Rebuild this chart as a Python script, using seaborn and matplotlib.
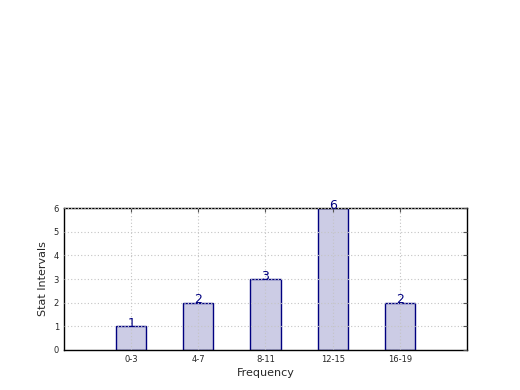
import matplotlib
matplotlib.use("Agg")
import matplotlib.pyplot as plt
import seaborn as sns
import pandas as pd

categories = ["0-3", "4-7", "8-11", "12-15", "16-19"]
values = [1, 2, 3, 6, 2]

sns.set_style("white")
plt.rcParams['font.family'] = ['DejaVu Sans']

df = pd.DataFrame({"Frequency": categories, "Stat Intervals": values})

fig = plt.figure(figsize=(5.2, 3.9), dpi=100)
ax = fig.add_axes([0.123, 0.1026, 0.775, 0.364])
sns.barplot(data=df, x="Frequency", y="Stat Intervals", ax=ax, width=0.45,
            color="#ccccE5", saturation=1, edgecolor="#000080", linewidth=1)
ax.set_xlim(-1, 5)
ax.set_ylim(0, 6)
ax.set_yticks(range(0, 7))
ax.grid(True, linestyle=(0, (1, 2)), color="#c4c4c4", linewidth=0.8)
ax.set_axisbelow(False)
for p in ax.patches:
    p.set_zorder(1)
ax.tick_params(axis="both", direction="in", labelsize=6, length=3, top=True, right=True, color="#555555")
for s in ax.spines.values():
    s.set_color("black")
    s.set_linewidth(1)
ax.set_xlabel("Frequency", fontsize=8, labelpad=3)
ax.set_ylabel("Stat Intervals", fontsize=8)
for i, v in enumerate(values):
    ax.annotate(str(v), (i, v), xytext=(0, 2), textcoords="offset points",
                ha="center", va="center", color="#000080", fontsize=9)
fig.savefig("out.png", dpi=100)
